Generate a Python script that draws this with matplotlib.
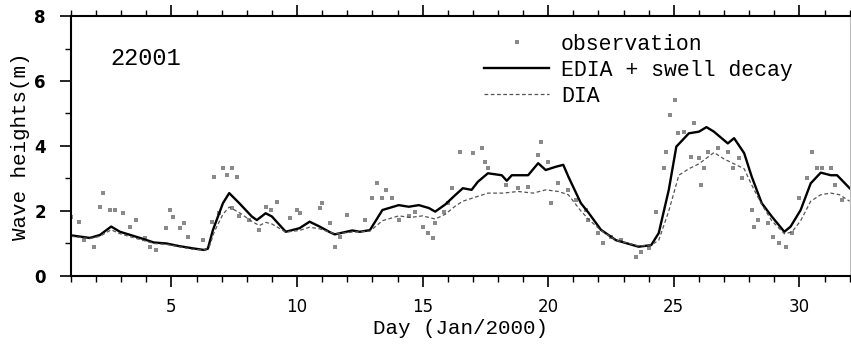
import matplotlib
matplotlib.use("Agg")
import matplotlib.pyplot as plt
from matplotlib.ticker import MultipleLocator

# EDIA + swell decay
edia_day = [1.0, 1.75, 2.15, 2.6, 2.95, 3.75, 4.3, 4.8, 5.3, 5.85, 6.3, 6.45, 6.65, 7.05, 7.3,
            7.7, 8.2, 8.4, 8.75, 9.0, 9.55, 10.1, 10.5, 10.9, 11.3, 11.5, 12.2, 12.5, 12.9, 13.4,
            14.05, 14.45, 14.85, 15.25, 15.5, 15.9, 16.3, 16.6, 16.95, 17.2, 17.6, 18.15, 18.35,
            18.55, 19.2, 19.6, 19.9, 20.3, 20.6, 20.8, 21.3, 21.6, 22.1, 22.7, 23.6, 24.1, 24.4,
            24.8, 25.1, 25.6, 26.0, 26.3, 26.6, 26.75, 27.15, 27.4, 27.8, 28.1, 28.5, 28.9, 29.4,
            29.65, 30.05, 30.45, 30.85, 31.25, 31.5, 32.0]
edia_val = [1.25, 1.17, 1.26, 1.52, 1.36, 1.17, 1.03, 1.0, 0.92, 0.85, 0.8, 0.84, 1.41, 2.24, 2.55,
            2.24, 1.83, 1.72, 1.93, 1.83, 1.36, 1.47, 1.67, 1.52, 1.35, 1.28, 1.4, 1.36, 1.41, 2.03,
            2.18, 2.13, 2.18, 2.09, 1.98, 2.2, 2.49, 2.7, 2.65, 2.9, 3.16, 3.1, 2.93,
            3.1, 3.1, 3.47, 3.26, 3.36, 3.42, 3.06, 2.24, 1.95, 1.42, 1.1, 0.9, 0.95, 1.32,
            2.65, 3.98, 4.39, 4.44, 4.58, 4.44, 4.34, 4.08, 4.24, 3.78, 3.06, 2.24, 1.83, 1.36,
            1.52, 2.03, 2.85, 3.18, 3.1, 3.1, 2.7]

# DIA
dia_day = [1.0, 1.75, 2.15, 2.6, 2.95, 3.75, 4.3, 4.8, 5.3, 5.85, 6.3, 6.5, 6.7, 7.05, 7.3, 7.7,
           8.2, 8.5, 8.75, 9.0, 9.55, 10.1, 10.5, 10.9, 11.5, 12.2, 12.9, 13.4, 14.05, 14.5, 15.0,
           15.5, 15.9, 16.3, 16.6, 17.2, 17.6, 18.2, 18.8, 19.4, 19.9, 20.4, 20.8, 21.3, 21.6,
           22.1, 22.7, 23.6, 24.1, 24.4, 24.8, 25.2, 25.6, 26.0, 26.6, 27.0, 27.4, 27.8, 28.1,
           28.5, 28.9, 29.4, 29.7, 30.05, 30.45, 30.85, 31.25, 31.6, 32.0]
dia_val = [1.22, 1.15, 1.22, 1.42, 1.3, 1.12, 1.0, 0.97, 0.9, 0.82, 0.8, 0.88, 1.35, 1.9, 2.12, 1.95,
           1.68, 1.55, 1.65, 1.6, 1.35, 1.4, 1.5, 1.45, 1.3, 1.35, 1.38, 1.7, 1.85, 1.8, 1.85,
           1.75, 1.9, 2.15, 2.3, 2.45, 2.55, 2.55, 2.6, 2.55, 2.65, 2.6, 2.5, 2.0, 1.75,
           1.4, 1.1, 0.92, 0.95, 1.1, 2.0, 3.1, 3.3, 3.45, 3.8, 3.6, 3.45, 3.3, 2.8,
           2.2, 1.7, 1.3, 1.35, 1.7, 2.3, 2.5, 2.55, 2.5, 2.3]

# observations
obs_day = [1.0, 1.3, 1.5, 1.9, 2.15, 2.27, 2.55, 2.75, 3.07, 3.35, 3.6, 3.95, 4.15, 4.4, 4.8,
           4.93, 5.05, 5.33, 5.5, 5.65, 6.25, 6.6, 6.7, 6.9, 7.05, 7.2, 7.4, 7.4, 7.6, 7.7, 8.1,
           8.5, 8.75, 8.95, 9.2, 9.7, 10.0, 10.1, 10.9, 11.0, 11.3, 11.5, 11.7, 12.0, 12.7, 13.0,
           13.2, 13.4, 13.55, 13.8, 14.05, 14.45, 14.7, 15.0, 15.2, 15.4, 15.5, 15.85, 16.0,
           16.15, 16.5, 17.0, 17.35, 17.5, 17.6, 18.3, 18.8, 19.2, 19.6, 19.7, 20.0, 20.1, 20.4,
           20.8, 21.1, 21.5, 21.6, 22.0, 22.2, 22.5, 22.9, 23.5, 23.7, 24.0, 24.3, 24.6, 24.7,
           24.85, 25.05, 25.15, 25.4, 25.7, 25.8, 26.0, 26.1, 26.2, 26.35, 26.75, 27.15, 27.35,
           27.6, 27.7, 28.1, 28.2, 28.35, 28.75, 28.95, 29.2, 29.45, 29.7, 30.0, 30.3, 30.5,
           30.7, 30.9, 31.25, 31.4, 31.7]
obs_val = [1.82, 1.67, 1.1, 0.9, 2.13, 2.55, 2.03, 2.03, 1.93, 1.52, 1.72, 1.17, 0.9, 0.8, 1.47,
           2.03, 1.82, 1.47, 1.62, 1.21, 1.1, 1.67, 3.05, 1.93, 3.32, 3.1, 3.32, 2.09, 3.05, 1.83, 1.72,
           1.41, 2.13, 2.03, 2.29, 1.78, 2.03, 1.93, 2.09, 2.24, 1.62, 0.9, 1.21, 1.88, 1.72, 2.4,
           2.85, 2.4, 2.65, 2.4, 1.72, 1.83, 1.98, 1.52, 1.31, 1.17, 1.62, 1.98, 2.24,
           2.7, 3.82, 3.78, 3.93, 3.52, 3.32, 2.8, 2.7, 2.75, 3.72, 4.13, 3.52, 2.24, 2.85,
           2.65, 2.34, 2.03, 1.72, 1.31, 1.01, 1.21, 1.1, 0.59, 0.75, 0.86, 1.98, 3.32, 3.82,
           4.95, 5.42, 4.39, 4.44, 3.67, 4.7, 3.63, 2.8, 3.32, 3.82, 3.93, 3.82, 3.32,
           3.63, 3.01, 2.03, 1.52, 1.72, 1.62, 1.21, 1.01, 0.9, 1.31, 2.4, 3.01, 3.82,
           3.32, 3.32, 3.32, 2.8, 2.34]

station = "22001"
x_ticks = [5, 10, 15, 20, 25, 30]
y_ticks = [0, 2, 4, 6, 8]

mono = "Liberation Mono"

fig = plt.figure(figsize=(8.51, 3.48), dpi=100)
ax = fig.add_axes([0.0834, 0.207, 0.915, 0.747])

ax.plot(obs_day, obs_val, linestyle="none", marker="s", markersize=3,
        color="#8a8a8a", markeredgewidth=0, label="observation")
ax.plot(edia_day, edia_val, color="black", linewidth=1.7, label="EDIA + swell decay")
ax.plot(dia_day, dia_val, color="#555555", linewidth=0.9, linestyle=(0, (3, 2)), label="DIA")

ax.set_xlim(1, 32)
ax.set_ylim(0, 8)
ax.set_xticks(x_ticks)
ax.set_yticks(y_ticks)
ax.xaxis.set_minor_locator(MultipleLocator(1))
ax.yaxis.set_minor_locator(MultipleLocator(1))

ax.tick_params(axis="x", which="both", direction="out", top=True, labeltop=False)
ax.tick_params(axis="x", which="major", length=8, width=1.2, pad=8, labelsize=12)
ax.tick_params(axis="x", which="minor", length=4, width=1.0)
ax.tick_params(axis="y", which="both", direction="out", right=False)
ax.tick_params(axis="y", which="major", length=8, width=1.2, pad=10, labelsize=12)
ax.tick_params(axis="y", which="minor", length=4, width=1.0)
for lab in ax.get_yticklabels():
    lab.set_fontweight("bold")

for side in ["left", "bottom", "top"]:
    ax.spines[side].set_linewidth(1.5)
ax.spines["right"].set_linewidth(0.8)
ax.spines["right"].set_color("#bbbbbb")

ax.set_xlabel("Day (Jan/2000)", fontfamily=mono, fontsize=15, labelpad=2)
ax.set_ylabel("Wave heights(m)", fontfamily=mono, fontsize=15, labelpad=3)

ax.text(0.05, 0.838, station, transform=ax.transAxes, fontfamily=mono,
        fontsize=17, va="center", ha="left")

leg = ax.legend(loc="upper left", bbox_to_anchor=(0.531, 0.932), frameon=False,
                prop={"family": mono, "size": 15.5}, handlelength=3.0,
                handletextpad=0.55, labelspacing=0.24, borderpad=0, borderaxespad=0,
                markerscale=0.8)

fig.savefig("out.png", dpi=100)
